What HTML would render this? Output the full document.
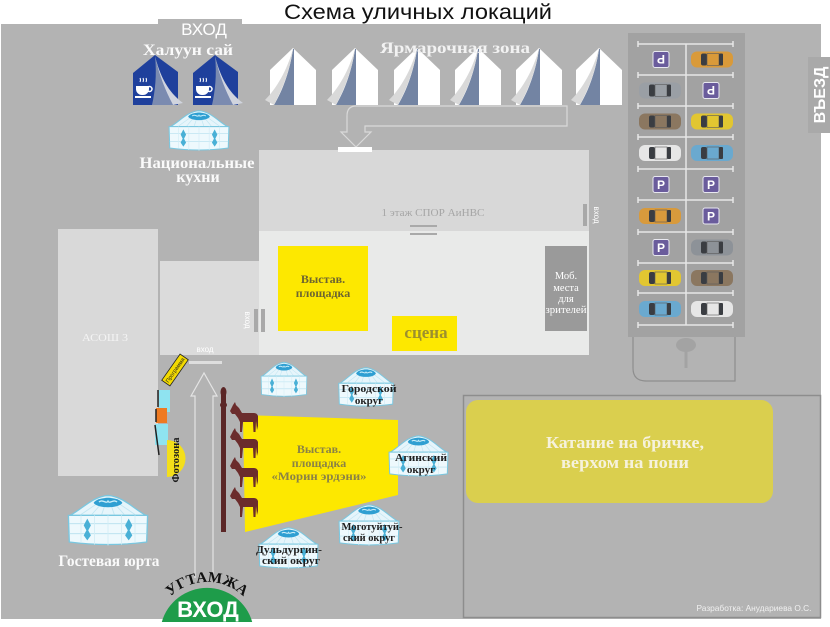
<!DOCTYPE html>
<html><head><meta charset="utf-8">
<style>html,body{margin:0;padding:0;background:#fff;width:830px;height:627px;overflow:hidden}svg{display:block}</style>
</head><body>
<svg width="830" height="627" viewBox="0 0 830 627" xmlns="http://www.w3.org/2000/svg" xmlns:xlink="http://www.w3.org/1999/xlink">
<defs>
 <symbol id="yurt" viewBox="0 0 100 66" preserveAspectRatio="none">
  <path d="M8,28 C22,20 32,6 50,4 C68,6 78,20 92,28 Z" fill="#e6f5fb" stroke="#79c7e0" stroke-width="1.5"/>
  <path d="M50,5 L20,27 M50,5 L32,27 M50,5 L43,27 M50,5 L57,27 M50,5 L68,27 M50,5 L80,27" stroke="#c2e6f2" stroke-width="1"/>
  <path d="M34,13 C38,5 62,5 66,13 C62,20 38,20 34,13 Z" fill="#2f9fd2"/>
  <path d="M40,12 C44,8 48,15 50,11 C52,15 56,8 60,12" stroke="#c8ecf8" fill="none" stroke-width="1.6"/>
  <path d="M6,28 L94,28 L93,60 Q50,66 7,60 Z" fill="#eef9fd" stroke="#79c7e0" stroke-width="1.5"/>
  <path d="M7,38 H93 M7,50 H93" stroke="#b5e0ee" stroke-width="1"/>
  <path d="M20,28 V61 M35,28 V63 M50,28 V64 M65,28 V63 M80,28 V61" stroke="#d3edf6" stroke-width="1"/>
  <path d="M27,32 L31,40 L27,48 L23,40 Z M27,44 L31,52 L27,58 L23,52 Z" fill="#49b0d6"/>
  <path d="M73,32 L77,40 L73,48 L69,40 Z M73,44 L77,52 L73,58 L69,52 Z" fill="#49b0d6"/>
 </symbol>
 <symbol id="car" viewBox="0 0 44 20">
  <rect x="1" y="2" width="42" height="16" rx="6" fill="currentColor"/>
  <rect x="11" y="4" width="6" height="12" rx="2" fill="#3a3d42"/>
  <rect x="17" y="4" width="12" height="12" fill="currentColor" stroke="#5a5a5a" stroke-width="0.6"/>
  <rect x="29" y="4" width="4" height="12" rx="1" fill="#3a3d42"/>
 </symbol>
 <symbol id="horse" viewBox="0 0 30 31">
  <path d="M2,9 L5,3 L7,0 L8,3 L11,6 L14,11 L26,11 Q29,11 30,14 L30,24 L29,28 L28,19 L27.5,30 L25.5,30 L25,20 L15,20 L14,30 L12,30 L12,20 L10,16 L7,12 L4,12 Z" fill="#6b2c2c"/>
 </symbol>
 <g id="wt">
  <path d="M5,70 L28,48 L51,70 L51,105 L5,105 Z" fill="#fff"/>
  <path d="M28,49 C25,70 18,90 9,105 L29,105 L29,49 Z" fill="#7384a3"/>
  <path d="M28,49 C22,70 12,88 0,100 L9,105 C18,88 25,70 28,49 Z" fill="#d9d9d9"/>
 </g>
 <g id="psign"><rect x="-8" y="-8" width="16" height="16" rx="2" fill="#6a5c9c" stroke="#e8e8f0" stroke-width="1"/><text x="0" y="4.5" font-family="Liberation Sans, sans-serif" font-size="12" font-weight="bold" text-anchor="middle" fill="#fff">P</text></g>
</defs>

<!-- title -->
<text x="418" y="19" font-family="Liberation Sans, sans-serif" font-size="21" text-anchor="middle" textLength="268" lengthAdjust="spacingAndGlyphs" fill="#111">Схема уличных локаций</text>

<!-- main gray -->
<rect x="1" y="24" width="820" height="595" fill="#b3b3b3"/>
<rect x="158" y="19" width="84" height="6" fill="#b3b3b3"/>
<rect x="808" y="57" width="22" height="76" fill="#a9a9a9"/>
<text transform="translate(825,95) rotate(-90)" font-family="Liberation Sans, sans-serif" font-size="16" font-weight="bold" text-anchor="middle" fill="#fff">ВЪЕЗД</text>

<text x="204" y="35" font-family="Liberation Sans, sans-serif" font-size="17" text-anchor="middle" fill="#fff">ВХОД</text>
<text x="188" y="55" font-family="Liberation Serif, serif" font-size="16" font-weight="bold" text-anchor="middle" textLength="90" lengthAdjust="spacingAndGlyphs" fill="#fafafa">Халуун сай</text>

<!-- blue tents -->
<g transform="translate(133,0)">
 <path d="M0,73 L22,55 L45,72 L45,105 L0,105 Z" fill="#1f409c"/>
 <path d="M22,56 C24,75 22,92 19,105 L40,105 C32,90 26,75 22,56 Z" fill="#7b8bb0"/>
 <path d="M22,56 C27,76 35,92 50,103 L40,105 C32,90 26,75 22,56 Z" fill="#d0d4de"/>
 <path d="M3,86 h13 v3 a6,6 0 0 1 -6,6 h-1 a6,6 0 0 1 -6,-6 Z" fill="#fff"/>
 <circle cx="16.5" cy="89" r="2.5" fill="none" stroke="#fff" stroke-width="1.5"/>
 <rect x="2" y="96" width="16" height="2" fill="#fff"/>
 <path d="M7,78 q1,2 0,4 M10,78 q1,2 0,4 M13,78 q1,2 0,4" stroke="#fff" stroke-width="1" fill="none"/>
</g>
<g transform="translate(193,0)">
 <path d="M0,73 L22,55 L45,72 L45,105 L0,105 Z" fill="#1f409c"/>
 <path d="M22,56 C24,75 22,92 19,105 L40,105 C32,90 26,75 22,56 Z" fill="#7b8bb0"/>
 <path d="M22,56 C27,76 35,92 50,103 L40,105 C32,90 26,75 22,56 Z" fill="#d0d4de"/>
 <path d="M3,86 h13 v3 a6,6 0 0 1 -6,6 h-1 a6,6 0 0 1 -6,-6 Z" fill="#fff"/>
 <circle cx="16.5" cy="89" r="2.5" fill="none" stroke="#fff" stroke-width="1.5"/>
 <rect x="2" y="96" width="16" height="2" fill="#fff"/>
 <path d="M7,78 q1,2 0,4 M10,78 q1,2 0,4 M13,78 q1,2 0,4" stroke="#fff" stroke-width="1" fill="none"/>
</g>

<!-- white tents -->
<use xlink:href="#wt" x="265"/>
<use xlink:href="#wt" x="327"/>
<use xlink:href="#wt" x="389"/>
<use xlink:href="#wt" x="450"/>
<use xlink:href="#wt" x="511"/>
<use xlink:href="#wt" x="571"/>
<text x="455" y="53" font-family="Liberation Serif, serif" font-size="16" font-weight="bold" text-anchor="middle" textLength="150" lengthAdjust="spacingAndGlyphs" fill="#f2f2f2">Ярмарочная зона</text>

<!-- bent hollow arrow -->
<path d="M567,106 L356,106 Q347,106 347,116 L347,132 L341,132 L356,147 L371,132 L365,132 L365,126 L567,126 Z" fill="none" stroke="#d9d9d9" stroke-width="1.2"/>

<!-- kitchens yurt -->
<use xlink:href="#yurt" x="165" y="108" width="68" height="44"/>
<text x="197" y="168" font-family="Liberation Serif, serif" font-size="16" font-weight="bold" text-anchor="middle" textLength="115" lengthAdjust="spacingAndGlyphs" fill="#fafafa">Национальные</text>
<text x="198" y="182" font-family="Liberation Serif, serif" font-size="16" font-weight="bold" text-anchor="middle" fill="#fafafa">кухни</text>

<!-- building -->
<rect x="259" y="150" width="330" height="81" fill="#d8d8d8"/>
<rect x="259" y="231" width="330" height="124" fill="#e9eae9"/>
<rect x="338" y="147" width="34" height="5" fill="#fff"/>
<text x="433" y="216" font-family="Liberation Serif, serif" font-size="10" text-anchor="middle" textLength="103" lengthAdjust="spacingAndGlyphs" fill="#a5a5a5">1 этаж СПОР АиНВС</text>
<rect x="410" y="225" width="27" height="2" fill="#a9a9a9"/>
<rect x="410" y="233" width="27" height="2" fill="#a9a9a9"/>
<rect x="583" y="204" width="4" height="22" fill="#a8a8a8"/>
<text transform="translate(594,215) rotate(90)" font-family="Liberation Sans, sans-serif" font-size="8" text-anchor="middle" fill="#fff">вход</text>

<rect x="278" y="246" width="90" height="85" fill="#fde800"/>
<text x="323" y="283" font-family="Liberation Serif, serif" font-size="12" font-weight="bold" text-anchor="middle" fill="#6d6530">Выстав.</text>
<text x="323" y="297" font-family="Liberation Serif, serif" font-size="12" font-weight="bold" text-anchor="middle" fill="#6d6530">площадка</text>
<rect x="392" y="316" width="65" height="35" fill="#fde800"/>
<text x="426" y="338" font-family="Liberation Serif, serif" font-size="17" font-weight="bold" text-anchor="middle" fill="#9c8f2e">сцена</text>
<rect x="545" y="246" width="42" height="85" fill="#9a9a9a"/>
<g font-family="Liberation Serif, serif" font-size="10.5" text-anchor="middle" fill="#fff">
 <text x="566" y="279">Моб.</text>
 <text x="566" y="291">места</text>
 <text x="566" y="302">для</text>
 <text x="566" y="313" textLength="41" lengthAdjust="spacingAndGlyphs">зрителей</text>
</g>

<!-- extension & ASOSH -->
<rect x="160" y="261" width="99" height="94" fill="#dbdbdb"/>
<rect x="254" y="309" width="4" height="23" fill="#a9a9a9"/>
<rect x="261" y="309" width="4" height="23" fill="#a9a9a9"/>
<text transform="translate(245,320) rotate(90)" font-family="Liberation Sans, sans-serif" font-size="8" text-anchor="middle" fill="#fff">вход</text>
<rect x="58" y="229" width="100" height="247" fill="#d9d9d9"/>
<text x="105" y="341" font-family="Liberation Serif, serif" font-size="11" text-anchor="middle" textLength="46" lengthAdjust="spacingAndGlyphs" fill="#f4f4f4">АСОШ 3</text>
<text x="205" y="352" font-family="Liberation Sans, sans-serif" font-size="8" text-anchor="middle" fill="#fff">вход</text>
<rect x="189" y="361" width="33" height="3" fill="#dedede"/>

<!-- parking -->
<rect x="628" y="33" width="117" height="304" fill="#a2a2a2"/>
<g stroke="#e6e6e6" stroke-width="1.5">
 <path d="M686,44 V325"/>
 <path d="M638,44 H733 M638,75 H733 M638,106 H733 M638,137 H733 M638,169 H733 M638,200 H733 M638,232 H733 M638,263 H733 M638,293 H733 M638,325 H733"/>
 <path d="M638,41 v6 M733,41 v6 M638,72 v6 M733,72 v6 M638,103 v6 M733,103 v6 M638,134 v6 M733,134 v6 M638,166 v6 M733,166 v6 M638,197 v6 M733,197 v6 M638,229 v6 M733,229 v6 M638,260 v6 M733,260 v6 M638,290 v6 M733,290 v6 M638,322 v6 M733,322 v6"/>
</g>
<use xlink:href="#psign" transform="translate(661,59.5) rotate(180)"/>
<use xlink:href="#psign" transform="translate(711,90.5) rotate(180)"/>
<use xlink:href="#psign" transform="translate(661,184.5)"/>
<use xlink:href="#psign" transform="translate(711,184.5)"/>
<use xlink:href="#psign" transform="translate(711,216)"/>
<use xlink:href="#psign" transform="translate(661,247.5)"/>
<use xlink:href="#car" x="690" y="49.5" width="44" height="20" color="#d99a3a"/>
<use xlink:href="#car" x="638" y="80.5" width="44" height="20" color="#9a9fa5"/>
<use xlink:href="#car" x="638" y="111.5" width="44" height="20" color="#8b7760"/>
<use xlink:href="#car" x="690" y="111.5" width="44" height="20" color="#e2c631"/>
<use xlink:href="#car" x="638" y="143" width="44" height="20" color="#e6e6e6"/>
<use xlink:href="#car" x="690" y="143" width="44" height="20" color="#6aa9cf"/>
<use xlink:href="#car" x="638" y="206" width="44" height="20" color="#d89a3c"/>
<use xlink:href="#car" x="690" y="237.5" width="44" height="20" color="#8d9298"/>
<use xlink:href="#car" x="638" y="268" width="44" height="20" color="#e2c631"/>
<use xlink:href="#car" x="690" y="268" width="44" height="20" color="#8b7760"/>
<use xlink:href="#car" x="638" y="299" width="44" height="20" color="#6aa9cf"/>
<use xlink:href="#car" x="690" y="299" width="44" height="20" color="#e6e6e6"/>
<path d="M633,337 V368 Q633,381 646,381 H735 V337" fill="none" stroke="#8e8e8e" stroke-width="1.2"/>
<ellipse cx="686" cy="345" rx="10" ry="7" fill="#a3a3a3"/>
<path d="M686,350 V368" stroke="#a3a3a3" stroke-width="3"/>

<!-- bottom right region -->
<rect x="463.5" y="395.5" width="357" height="222" fill="none" stroke="#8d8d8d" stroke-width="1.5"/>
<rect x="466" y="400" width="307" height="103" rx="12" fill="#dacf4e"/>
<text x="625" y="448" font-family="Liberation Serif, serif" font-size="17" font-weight="bold" text-anchor="middle" textLength="158" lengthAdjust="spacingAndGlyphs" fill="#f6f2dc">Катание на бричке,</text>
<text x="625" y="468" font-family="Liberation Serif, serif" font-size="17" font-weight="bold" text-anchor="middle" textLength="128" lengthAdjust="spacingAndGlyphs" fill="#f6f2dc">верхом на пони</text>
<text x="754" y="611" font-family="Liberation Sans, sans-serif" font-size="8.5" text-anchor="middle" textLength="115" lengthAdjust="spacingAndGlyphs" fill="#f0f0f0">Разработка: Анудариева О.С.</text>

<!-- photozone -->
<g transform="translate(175,370) rotate(-55)"><rect x="-16" y="-5" width="32" height="10" fill="#f3da00" stroke="#222" stroke-width="0.8"/><text x="0" y="2" font-family="Liberation Sans, sans-serif" font-size="5.5" text-anchor="middle" fill="#222">Программа</text></g>
<rect x="159" y="390" width="11" height="22" fill="#8fe3f0"/>
<rect x="156" y="408" width="11" height="15" fill="#ee7a22"/>
<rect x="155" y="424" width="13" height="21" fill="#8fe3f0"/>
<path d="M158,390 V407 M156,409 V422 M155,425 L159,455" stroke="#222" stroke-width="1.5"/>
<path d="M167,440 A18.5,18.5 0 0 1 167,477 Z" fill="#f4df1a"/>
<text transform="translate(179,460) rotate(-90)" font-family="Liberation Serif, serif" font-size="10" font-weight="bold" text-anchor="middle" textLength="45" lengthAdjust="spacingAndGlyphs" fill="#1a1a1a">Фотозона</text>

<!-- up hollow arrow -->
<path d="M195,578 L195,396 L191,396 L204,373 L217,396 L213,396 L213,578" fill="none" stroke="#e4e4e4" stroke-width="1.2"/>

<!-- horses area -->
<polygon points="243,415 398,420 398,495 245,532" fill="#fde800"/>
<rect x="221" y="392" width="5" height="140" fill="#5b2626"/>
<ellipse cx="223.5" cy="392" rx="3" ry="5" fill="#5b2626"/>
<ellipse cx="223.5" cy="405" rx="3.5" ry="3" fill="#5b2626"/>
<use xlink:href="#horse" x="228" y="402" width="30" height="31"/>
<use xlink:href="#horse" x="228" y="428" width="30" height="31"/>
<use xlink:href="#horse" x="228" y="457" width="30" height="31"/>
<use xlink:href="#horse" x="228" y="487" width="30" height="31"/>
<g font-family="Liberation Serif, serif" font-size="12" font-weight="bold" text-anchor="middle" fill="#8a8245">
 <text x="319" y="453">Выстав.</text>
 <text x="319" y="467">площадка</text>
 <text x="319" y="480" textLength="95" lengthAdjust="spacingAndGlyphs">«Морин эрдэни»</text>
</g>

<!-- yurts -->
<use xlink:href="#yurt" x="258" y="360" width="52" height="38"/>
<use xlink:href="#yurt" x="335" y="365" width="62" height="43"/>
<use xlink:href="#yurt" x="385" y="433" width="67" height="45"/>
<use xlink:href="#yurt" x="335" y="502" width="68" height="45"/>
<use xlink:href="#yurt" x="255" y="525" width="67" height="45"/>
<use xlink:href="#yurt" x="63" y="492" width="90" height="55"/>
<g font-family="Liberation Serif, serif" font-size="11" font-weight="bold" text-anchor="middle" fill="#1e1e1e">
 <text x="369" y="392" textLength="55" lengthAdjust="spacingAndGlyphs">Городской</text>
 <text x="369" y="404">округ</text>
 <text x="421" y="461" textLength="52" lengthAdjust="spacingAndGlyphs">Агинский</text>
 <text x="421" y="473">округ</text>
 <text x="372" y="530" textLength="61" lengthAdjust="spacingAndGlyphs">Моготуйтуй-</text>
 <text x="369" y="541" textLength="52" lengthAdjust="spacingAndGlyphs">ский округ</text>
 <text x="289" y="553" textLength="66" lengthAdjust="spacingAndGlyphs">Дульдургин-</text>
 <text x="291" y="564" textLength="58" lengthAdjust="spacingAndGlyphs">ский округ</text>
</g>
<text x="109" y="566" font-family="Liberation Serif, serif" font-size="16" font-weight="bold" text-anchor="middle" textLength="101" lengthAdjust="spacingAndGlyphs" fill="#fafafa">Гостевая юрта</text>

<!-- entrance -->
<path d="M161.8,622 A47,47 0 0 1 252.2,622 Z" fill="#1e9c4a"/>
<text x="208" y="617" font-family="Liberation Sans, sans-serif" font-size="22" font-weight="bold" text-anchor="middle" fill="#fff">ВХОД</text>
<path id="arc" d="M154,635 A53,53 0 0 1 260,635" fill="none"/>
<text font-family="Liberation Serif, serif" font-size="15" font-weight="bold" fill="#111"><textPath xlink:href="#arc" startOffset="50%" text-anchor="middle">УГТАМЖА</textPath></text>
</svg>
</body></html>
